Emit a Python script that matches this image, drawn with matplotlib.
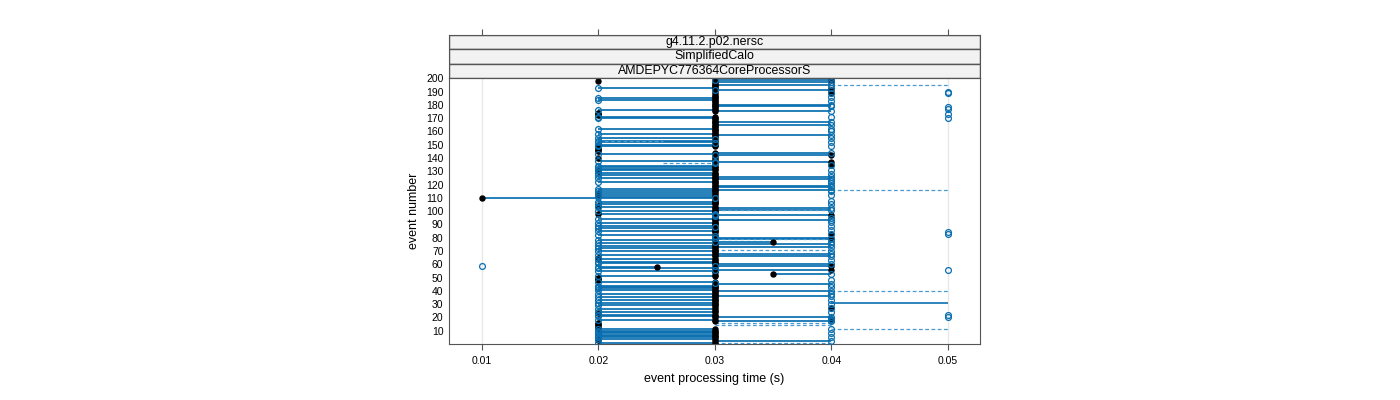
import numpy as np
import matplotlib
matplotlib.use("Agg")
import matplotlib.pyplot as plt
from matplotlib.patches import Rectangle

plt.rcParams['font.family'] = ['Liberation Sans', 'DejaVu Sans']

# strip labels (top to bottom)
strips = ["g4.11.2.p02.nersc", "SimplifiedCalo", "AMDEPYC776364CoreProcessorS"]

events = np.arange(1, 201)
N = None  # no measurement

# run 1 (filled black), ms per event, events 1..200
black_ms = [
    30, 30, 20, 30, 30, 30, 30, 30, 30, 30, 30, 20, 20, 20, 20, 20, 30, 30, 40, 30,
    30, 30, 20, 30, 30, 30, 40, 30, 30, 30, 30, 30, 30, 30, 30, 30, 30, 30, 30, 30,
    30, 30, 30, 30, 30, 30, 30, 20, 20, 20, 30, 30, 35, 30, 30, 40, 30, 25, 40, 30,
    30, 30, 30, 30, 20, 30, 30, 30, 30, 30, 30, 30, 30, 30, 30, 30, 35, 30, 30, 40,
    30, 30, 40, 30, 30, 30, 30, 30, 30, 30, 30, 30, 30, 30, 30, 30, 40, 20, 30, 30,
    30, 30, 30, 20, 30, 30, 30, 30, 30, 10, 30, 30, 20, 30, 30, 30, 30, 30, 30, 30,
    30, 30, 30, 30, 30, 30, 30, 30, 30, 20, 30, 30, 30, 30, 40, 30, 40, 30, 30, 20,
    30, 40, 30, 30, 20, 20, 20, 20, 30, 30, 30, 30, 30, 30, 30, 30, 30, 30, 30, 30,
    30, 30, 30, 30, 30, 30, 30, 30, 30, 30, 30, 20, 20, 20, 30, 30, 30, 30, 30, 30,
    30, 30, 30, 30, 30, 30, 30, 30, 40, 30, 40, 30, 30, 30, 30, 30, 30, 20, 40, 30,
]

# run 2 (open blue, joined to run 1 by a solid line)
blue_ms = [
    20, 40, N, 20, 20, 20, 20, 20, 20, 20, 20, N, N, N, N, N, 40, 20, 40, 40,
    20, 20, N, 20, N, 20, 40, N, 20, N, 20, N, 20, N, 20, 40, N, 20, N, 40,
    20, 20, 20, 20, 40, 30, 20, N, N, N, 20, N, 40, N, 20, 30, 20, 20, 30, 40,
    20, 20, N, 20, N, 40, 20, 40, N, 20, N, 20, 40, 20, 40, 20, 30, 20, 40, 30,
    30, 20, 40, N, 20, N, 20, 30, 20, N, 20, N, 40, 20, N, 30, 30, 30, N, 20,
    40, 40, 20, N, 20, N, 20, N, N, 30, 20, 20, N, 20, 20, 40, 20, 40, 40, N,
    N, 20, N, 40, 20, 40, 20, N, 20, N, 20, 20, 20, 20, 40, 30, 30, 20, N, N,
    N, 30, 20, 40, N, N, N, N, 20, 20, 30, 20, 20, 30, 20, N, 40, 20, N, N,
    N, 20, N, N, 40, N, 40, N, N, 20, 20, N, N, N, 40, 20, N, N, 40, 40,
    N, N, N, 20, 20, N, N, N, 40, N, 30, N, 20, N, 40, N, 40, N, 30, N,
]

# run 3 (open blue, no line)
blue2_ms = [
    N, N, N, N, 40, N, N, 40, N, N, 40, N, N, N, N, N, N, 40, N, 50,
    N, 50, N, 40, N, N, N, N, N, 40, N, N, 40, N, N, N, N, 40, N, N,
    N, N, 40, N, N, N, N, 40, N, N, N, N, N, N, N, 50, N, N, 10, N,
    N, N, 40, N, N, N, N, N, N, 40, N, N, N, N, N, N, 40, N, N, N,
    N, N, 50, 50, N, 40, N, N, 40, N, N, 40, N, N, 40, N, N, N, N, N,
    N, N, N, N, 40, N, N, 40, N, N, N, 40, N, N, 40, N, N, N, N, N,
    40, N, 40, N, N, N, N, 40, N, N, 40, N, N, N, N, N, N, N, N, N,
    N, N, N, N, N, N, N, N, 40, N, N, 40, N, N, 40, N, N, N, N, 40,
    N, 40, N, N, N, N, N, N, N, 50, 40, N, 50, N, N, N, 50, 50, N, N,
    N, N, 40, N, N, 40, N, N, 50, 50, N, N, 40, N, N, N, N, N, N, 40,
]

# extra segments: event, from (ms), to (ms), dashed?
seg_event = [195, 153, 136, 116, 101, 79, 71, 40, 31, 16, 14, 11, 1]
seg_from = [40, 20, 25.5, 40, 30, 30, 30, 40, 40, 30, 30, 40, 30]
seg_to = [50, 25.5, 30, 50, 40, 40, 40, 50, 50, 40, 40, 50, 40]
seg_dashed = [True, True, True, True, True, True, True, True, False, True, True, True, True]

xticks = [0.01, 0.02, 0.03, 0.04, 0.05]
yticks = list(range(10, 201, 10))

black_t = np.array(black_ms, dtype=float) / 1000
blue_t = np.array(blue_ms, dtype=float) / 1000
blue2_t = np.array(blue2_ms, dtype=float) / 1000

line_col = '#0a6fb0'
dash_col = '#4a9ad2'
frame_col = '#555555'

fig = plt.figure(figsize=(14, 4), dpi=100)
ax = fig.add_axes([449/1400, 1 - 344/400, 531/1400, 266/400])
xlim = (0.00717, 0.05275)
ax.set_xlim(*xlim)
ax.set_ylim(0, 200.2)

for x in xticks:
    ax.axvline(x, color='#e8e8e8', lw=1, zorder=0)

# solid lines between run 1 and run 2
ok = ~np.isnan(blue_t)
lo = np.minimum(black_t, blue_t)[ok]
hi = np.maximum(black_t, blue_t)[ok]
ax.hlines(events[ok], lo, hi, color=line_col, lw=1.25, zorder=1)

for e, a, b, d in zip(seg_event, seg_from, seg_to, seg_dashed):
    ax.hlines(e, a / 1000, b / 1000, color=dash_col if d else line_col,
              lw=0.9 if d else 1.2, linestyles=(0, (3, 2)) if d else 'solid', zorder=1)

ax.plot(black_t, events, 'o', ms=3.6, color='black', zorder=2)
ax.plot(blue_t, events, 'o', ms=4.2, mfc='none', mec=line_col, mew=0.9, zorder=3)
ax.plot(blue2_t, events, 'o', ms=4.2, mfc='none', mec=line_col, mew=0.9, zorder=3)

ax.set_xticks(xticks)
ax.set_xticklabels([str(x) for x in xticks])
ax.set_yticks(yticks)
ax.tick_params(axis='x', direction='out', length=4, color=frame_col, labelsize=7.5, pad=5)
ax.tick_params(axis='y', length=0, labelsize=7.5, pad=4)
for s in ax.spines.values():
    s.set_color(frame_col)
ax.set_xlabel("event processing time (s)", fontsize=9, labelpad=5)
ax.set_ylabel("event number", fontsize=9, labelpad=4)

# strips above the panel
sax = fig.add_axes([449/1400, 1 - 78/400, 531/1400, 43/400])
sax.set_xlim(*xlim)
sax.set_ylim(0, 3)
sax.set_yticks([])
sax.set_xticks(xticks)
sax.xaxis.tick_top()
sax.tick_params(axis='x', direction='out', length=4, color=frame_col, labeltop=False)
for s in sax.spines.values():
    s.set_color(frame_col)
for i, name in enumerate(strips):
    y0 = 2 - i
    sax.add_patch(Rectangle((xlim[0], y0), xlim[1] - xlim[0], 1, facecolor='#f2f2f2',
                            edgecolor=frame_col, lw=1))
    sax.text(np.mean(xlim), y0 + 0.5, name, ha='center', va='center', fontsize=8.9)

fig.savefig("out.png", dpi=100)
